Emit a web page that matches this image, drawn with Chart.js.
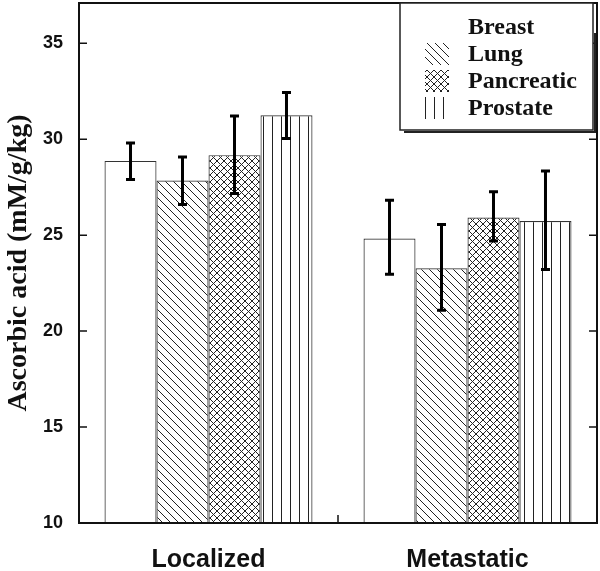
<!DOCTYPE html>
<html>
<head>
<meta charset="utf-8">
<script src="https://cdn.jsdelivr.net/npm/chart.js@4"></script>
<style>
  html, body { margin: 0; padding: 0; background: #fff; }
  #wrap { width: 600px; height: 571px; }
</style>
</head>
<body>
<div id="wrap"><canvas id="chart" width="600" height="571"></canvas></div>
<script>
const categories = ['Localized', 'Metastatic'];
const seriesNames = ['Breast', 'Lung', 'Pancreatic', 'Prostate'];

const breast = [28.87, 24.83];
const breastLow = [27.9, 22.97];
const breastHigh = [29.8, 26.82];

const lung = [27.85, 23.28];
const lungLow = [26.6, 21.09];
const lungHigh = [29.08, 25.56];

const pancreatic = [29.17, 25.92];
const pancreaticLow = [27.17, 24.7];
const pancreaticHigh = [31.21, 27.26];

const prostate = [31.25, 25.74];
const prostateLow = [30.04, 23.21];
const prostateHigh = [32.43, 28.35];

const yTicks = [10, 15, 20, 25, 30, 35];

const INK = '#222';

// hatch fills
function makePattern(w, h, draw) {
  const c = document.createElement('canvas');
  c.width = w; c.height = h;
  const g = c.getContext('2d');
  g.fillStyle = '#fff';
  g.fillRect(0, 0, w, h);
  g.strokeStyle = INK;
  g.lineWidth = 1;
  draw(g, w, h);
  return document.getElementById('chart').getContext('2d').createPattern(c, 'repeat');
}

const lungFill = makePattern(8, 8, (g, w, h) => {
  g.beginPath();
  g.moveTo(-1, -1); g.lineTo(w + 1, h + 1);
  g.moveTo(-1, h - 1); g.lineTo(1, h + 1);
  g.moveTo(w - 1, -1); g.lineTo(w + 1, 1);
  g.stroke();
});

const pancreaticFill = makePattern(7, 7, (g, w, h) => {
  g.beginPath();
  g.moveTo(0, 0); g.lineTo(w, h);
  g.moveTo(w, 0); g.lineTo(0, h);
  g.stroke();
});

const prostateFill = makePattern(9, 9, (g, w, h) => {
  g.beginPath();
  g.moveTo(2.5, 0); g.lineTo(2.5, h);
  g.stroke();
});

const fills = ['#fff', lungFill, pancreaticFill, prostateFill];
const values = [breast, lung, pancreatic, prostate];
const lows = [breastLow, lungLow, pancreaticLow, prostateLow];
const highs = [breastHigh, lungHigh, pancreaticHigh, prostateHigh];

const errorBars = {
  id: 'errorBars',
  afterDatasetsDraw(chart) {
    const { ctx } = chart;
    const y = chart.scales.y;
    ctx.save();
    ctx.strokeStyle = '#000';
    ctx.lineWidth = 3;
    chart.data.datasets.forEach((ds, i) => {
      chart.getDatasetMeta(i).data.forEach((bar, j) => {
        const top = y.getPixelForValue(highs[i][j]);
        const bot = y.getPixelForValue(lows[i][j]);
        ctx.beginPath();
        ctx.moveTo(bar.x, top); ctx.lineTo(bar.x, bot);
        ctx.moveTo(bar.x - 4.5, top); ctx.lineTo(bar.x + 4.5, top);
        ctx.moveTo(bar.x - 4.5, bot); ctx.lineTo(bar.x + 4.5, bot);
        ctx.stroke();
      });
    });
    ctx.restore();
  }
};

const frame = {
  id: 'frame',
  afterDraw(chart) {
    const { ctx, chartArea: a } = chart;
    const y = chart.scales.y;
    ctx.save();
    ctx.strokeStyle = '#111';
    ctx.lineWidth = 1.5;
    ctx.beginPath();
    yTicks.forEach(v => {
      const py = y.getPixelForValue(v);
      ctx.moveTo(a.left, py); ctx.lineTo(a.left + 8, py);
      ctx.moveTo(a.right, py); ctx.lineTo(a.right - 8, py);
    });
    const mid = (a.left + a.right) / 2;
    ctx.moveTo(mid, a.bottom); ctx.lineTo(mid, a.bottom - 8);
    ctx.stroke();
    ctx.lineWidth = 2;
    ctx.strokeRect(a.left, a.top, a.right - a.left, a.bottom - a.top);

    // legend box
    const lx = 400, ly = 3, lw = 193, lh = 127;
    ctx.fillStyle = '#fff';
    ctx.fillRect(lx, ly, lw, lh);
    ctx.lineWidth = 1.5;
    ctx.strokeStyle = '#222';
    ctx.strokeRect(lx, ly, lw, lh);
    ctx.lineWidth = 2;
    ctx.beginPath();
    ctx.moveTo(lx + lw + 2, ly + 30); ctx.lineTo(lx + lw + 2, ly + lh + 2);
    ctx.lineTo(lx + 4, ly + lh + 2);
    ctx.stroke();

    ctx.font = 'bold 24px "Liberation Serif", serif';
    ctx.textBaseline = 'middle';
    seriesNames.forEach((name, i) => {
      const cy = 27 + i * 27;
      if (i > 0) {
        ctx.fillStyle = fills[i];
        ctx.fillRect(425, cy - 11, 24, 22);
      }
      ctx.fillStyle = '#111';
      ctx.fillText(name, 468, cy + 1);
    });
    ctx.restore();
  }
};

new Chart(document.getElementById('chart'), {
  type: 'bar',
  data: {
    labels: categories,
    datasets: seriesNames.map((name, i) => ({
      label: name,
      data: values[i],
      backgroundColor: fills[i],
      borderColor: '#333',
      borderWidth: 1.2,
      borderSkipped: false
    }))
  },
  options: {
    responsive: false,
    animation: false,
    devicePixelRatio: 1,
    layout: { padding: { left: 0, top: 3, right: 3, bottom: 0 } },
    datasets: { bar: { categoryPercentage: 0.803, barPercentage: 1 } },
    plugins: {
      legend: { display: false },
      tooltip: { enabled: false }
    },
    scales: {
      x: {
        grid: { display: false, drawTicks: false },
        border: { display: false },
        ticks: {
          color: '#111',
          padding: 22,
          font: { family: '"Liberation Sans", Arial, sans-serif', size: 25, weight: 'bold' }
        },
        afterFit: scale => {
          scale.height = 48;
          scale.paddingLeft = 0;
          scale.paddingRight = 0;
        }
      },
      y: {
        min: 10,
        max: 37.1,
        grid: { display: false, drawTicks: false },
        border: { display: false },
        ticks: {
          stepSize: 5,
          includeBounds: false,
          color: '#111',
          padding: 16,
          font: { family: '"Liberation Sans", Arial, sans-serif', size: 18, weight: 'bold' }
        },
        title: {
          display: true,
          text: 'Ascorbic acid (mM/g/kg)',
          color: '#111',
          padding: { top: 2, bottom: 0 },
          font: { family: '"Liberation Serif", serif', size: 28, weight: 'bold' }
        },
        afterFit: scale => {
          scale.width = 79;
          scale.paddingTop = 0;
          scale.paddingBottom = 0;
        }
      }
    }
  },
  plugins: [errorBars, frame]
});
</script>
</body>
</html>
